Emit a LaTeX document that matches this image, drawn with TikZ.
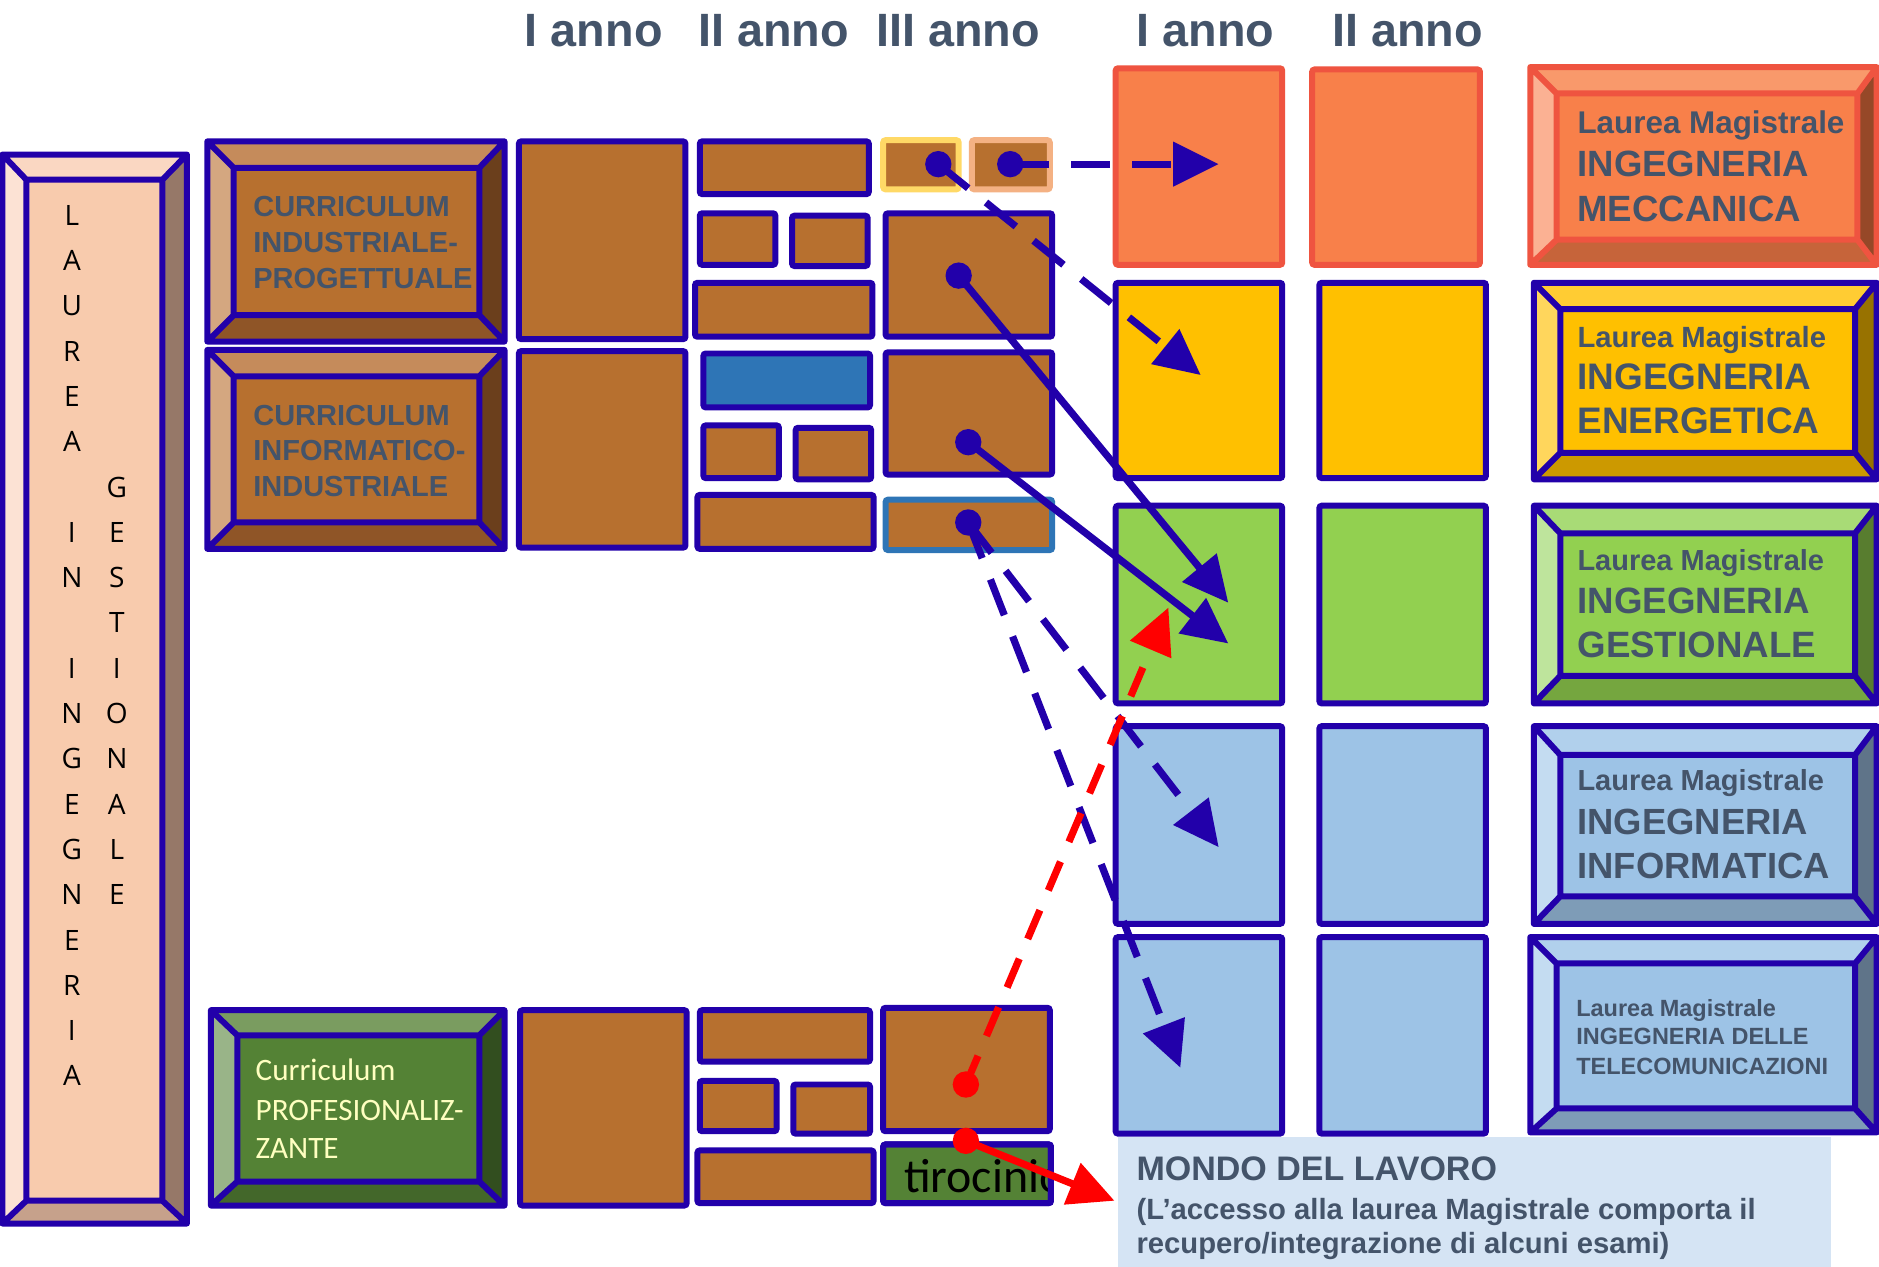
\documentclass[tikz,border=0pt]{standalone}
\usepackage{fontspec}
\setmainfont{Liberation Sans}
\newfontfamily\carlfont{Carlito}
\newfontfamily\opfont{Open Sans}
\usetikzlibrary{arrows.meta,fit}
\definecolor{bord}{HTML}{2200AA}
\definecolor{slate}{HTML}{44546A}
\definecolor{brn}{HTML}{B7702F}
\definecolor{blfill}{HTML}{2E75B6}
\definecolor{mbord}{HTML}{FFD966}
\definecolor{nbord}{HTML}{F4B183}
\definecolor{mondo}{HTML}{D5E4F4}
\definecolor{paleyel}{HTML}{FFFFC0}
\definecolor{redc}{HTML}{FF0000}
% bevel schemes: C centre, T top, L left, R right, B bottom, D border
\definecolor{lbC}{HTML}{F8CBAD}\definecolor{lbT}{HTML}{FAD7C2}\definecolor{lbL}{HTML}{FCE2D4}
\definecolor{lbR}{HTML}{967868}\definecolor{lbB}{HTML}{C6A18B}\definecolor{lbD}{HTML}{2200AA}
\definecolor{brC}{HTML}{B7702F}\definecolor{brT}{HTML}{C58B5B}\definecolor{brL}{HTML}{D4A780}
\definecolor{brR}{HTML}{6B3F1C}\definecolor{brB}{HTML}{8F5527}\definecolor{brD}{HTML}{2200AA}
\definecolor{gnC}{HTML}{548235}\definecolor{gnT}{HTML}{7A9C60}\definecolor{gnL}{HTML}{99B488}
\definecolor{gnR}{HTML}{324E1F}\definecolor{gnB}{HTML}{43672A}\definecolor{gnD}{HTML}{2200AA}
\definecolor{orC}{HTML}{F8804A}\definecolor{orT}{HTML}{F9996B}\definecolor{orL}{HTML}{FBB193}
\definecolor{orR}{HTML}{964828}\definecolor{orB}{HTML}{C6643A}\definecolor{orD}{HTML}{EF5440}
\definecolor{yeC}{HTML}{FFC000}\definecolor{yeT}{HTML}{FFCC33}\definecolor{yeL}{HTML}{FFD65C}
\definecolor{yeR}{HTML}{987200}\definecolor{yeB}{HTML}{CC9900}\definecolor{yeD}{HTML}{2200AA}
\definecolor{lgC}{HTML}{92D050}\definecolor{lgT}{HTML}{A8DB76}\definecolor{lgL}{HTML}{BEE49C}
\definecolor{lgR}{HTML}{587D2F}\definecolor{lgB}{HTML}{75A63F}\definecolor{lgD}{HTML}{2200AA}
\definecolor{luC}{HTML}{9DC3E6}\definecolor{luT}{HTML}{B1D0EC}\definecolor{luL}{HTML}{C4DCF1}
\definecolor{luR}{HTML}{5F7489}\definecolor{luB}{HTML}{7E9CB7}\definecolor{luD}{HTML}{2200AA}
% #1 scheme, #2-#5 outer x0 y0 x1 y1, #6-#9 inner x0 y0 x1 y1
\newcommand\bvbox[9]{%
  \fill[#1T] (#2,#3) -- (#4,#3) -- (#8,#7) -- (#6,#7) -- cycle;
  \fill[#1R] (#4,#3) -- (#4,#5) -- (#8,#9) -- (#8,#7) -- cycle;
  \fill[#1B] (#4,#5) -- (#2,#5) -- (#6,#9) -- (#8,#9) -- cycle;
  \fill[#1L] (#2,#5) -- (#2,#3) -- (#6,#7) -- (#6,#9) -- cycle;
  \fill[#1C] (#6,#7) rectangle (#8,#9);
  \draw[#1D, line width=2.5pt, line join=round]
    (#2,#3) rectangle (#4,#5) (#6,#7) rectangle (#8,#9)
    (#2,#3) -- (#6,#7) (#4,#3) -- (#8,#7) (#4,#5) -- (#8,#9) (#2,#5) -- (#6,#9);
}
\tikzset{
  rb/.style={draw=bord, line width=2.5pt, inner sep=0pt, outer sep=0pt, fill=brn, rounded corners=1pt},
  tt/.style={font=\bfseries\fontsize{19.5}{23}\selectfont, text=slate, inner sep=0pt, anchor=base},
  lt/.style={font=\opfont\fontsize{11.7}{14}\selectfont, inner sep=0pt, anchor=base},
  ct/.style={font=\bfseries\fontsize{12.1}{15}\selectfont, text=slate, inner sep=0pt, anchor=base west},
  mt/.style={font=\bfseries\fontsize{#1}{#1}\selectfont, text=slate, inner sep=0pt, anchor=base west},
  arr/.style={line width=3pt, draw=bord, -{Triangle[length=19pt,width=18pt]}},
  rarr/.style={line width=3pt, draw=redc, -{Triangle[length=19pt,width=18pt]}},
  bdash/.style={dash pattern=on 16pt off 9.5pt},
  rdash/.style={dash pattern=on 13pt off 9pt},
}
\begin{document}
\begin{tikzpicture}[x=0.5pt,y=-0.5pt]
\fill[white] (0,0) rectangle (1568,1057.3);
\useasboundingbox (0,0) rectangle (1568,1057.3);

% titles
\node[tt] (t1) at (495.5,39) {I anno};
\node[tt] (t2) at (645.5,39) {II anno};
\node[tt] (t3) at (799.5,39) {III anno};
\node[tt] (t4) at (1006,39) {I anno};
\node[tt] (t5) at (1174.5,39) {II anno};

% left bar
\bvbox{lb}{2}{129}{156}{1021}{22}{150}{135.5}{1002}
\foreach \ch/\k in {L/0,A/1,U/2,R/3,E/4,A/5,I/7,N/8,I/10,N/11,G/12,E/13,G/14,N/15,E/16,R/17,I/18,A/19}
  \node[lt] (la\k) at (60,{188+\k*37.8}) {\ch};
\foreach \ch/\k in {G/6,E/7,S/8,T/9,I/10,O/11,N/12,A/13,L/14,E/15}
  \node[lt] (lb\k) at (97.5,{188+\k*37.8}) {\ch};

% curriculum boxes
\bvbox{br}{173}{118}{421}{285}{195}{140}{400}{263}
\node[ct] (c1a) at (211,181) {CURRICULUM};
\node[ct] (c1b) at (211,210.5) {INDUSTRIALE-};
\node[ct] (c1c) at (211,240.5) {PROGETTUALE};
\bvbox{br}{173}{292}{421}{458}{195}{314}{400}{436}
\node[ct] (c2a) at (211,354.7) {CURRICULUM};
\node[ct] (c2b) at (211,384) {INFORMATICO-};
\node[ct] (c2c) at (211,414) {INDUSTRIALE};
\bvbox{gn}{176}{843}{421}{1006}{198}{864}{400}{986}
\node[font=\carlfont\fontsize{13}{15}\selectfont, text=paleyel, inner sep=0pt, anchor=base west] (c3a) at (213,902) {Curriculum};
\node[font=\carlfont\fontsize{13}{15}\selectfont, text=paleyel, inner sep=0pt, anchor=base west] (c3b) at (213,935) {PROFESIONALIZ-};
\node[font=\carlfont\fontsize{13}{15}\selectfont, text=paleyel, inner sep=0pt, anchor=base west] (c3c) at (213,967) {ZANTE};

% I anno (triennale)
\node[rb, fit={(433,118)(572,283)}] (y1a) {};
\node[rb, fit={(433,293)(572,457)}] (y1b) {};
\node[rb, fit={(434,843)(573,1006)}] (y1c) {};
% II anno
\node[rb, fit={(584,118)(725,162)}] (a) {};
\node[rb, fit={(584,178)(647,221)}] (b) {};
\node[rb, fit={(661,180)(724,222)}] (c) {};
\node[rb, fit={(580,236)(728,281)}] (d) {};
\node[rb, fill=blfill, fit={(587,295)(726,340)}] (e) {};
\node[rb, fit={(587,355)(650,399)}] (f) {};
\node[rb, fit={(664,357)(727,400)}] (g) {};
\node[rb, fit={(582,413)(729,458)}] (h) {};
\node[rb, fit={(584,843)(726,886)}] (i) {};
\node[rb, fit={(584,902)(648,944)}] (j) {};
\node[rb, fit={(662,905)(726,946)}] (k) {};
\node[rb, fit={(582,960)(729,1004)}] (l) {};
% III anno
\node[rb, draw=mbord, fit={(737,117)(800,158)}] (m) {};
\node[rb, draw=nbord, fit={(811,117)(876,158)}] (n) {};
\node[rb, fit={(739,178)(878,281)}] (o) {};
\node[rb, fit={(739,294)(878,396)}] (p) {};
\node[rb, draw=blfill, fit={(739,417)(878,459)}] (q) {};
\node[rb, fit={(737,841)(876,944)}] (r) {};
\node[rb, fill=gnC, fit={(737,955)(877,1004)}] (s) {};
\begin{scope}
  \clip (s.north west) rectangle (s.south east);
  \node[font=\carlfont\fontsize{20}{20}\selectfont, inner sep=0pt, anchor=base west] (tiro) at (754,995) {tirocinio};
\end{scope}
\draw[bord, line width=2.5pt, rounded corners=1pt] (s.north west) rectangle (s.south east);

% magistrale grid
\node[rb, fill=orC, draw=orD, fit={(931,57)(1070,221)}] (g11) {};
\node[rb, fill=orC, draw=orD, fit={(1095,58)(1235,221)}] (g12) {};
\node[rb, fill=yeC, fit={(931,236)(1070,399)}] (g21) {};
\node[rb, fill=yeC, fit={(1101,236)(1240,399)}] (g22) {};
\node[rb, fill=lgC, fit={(931,422)(1070,587)}] (g31) {};
\node[rb, fill=lgC, fit={(1101,422)(1240,587)}] (g32) {};
\node[rb, fill=luC, fit={(931,606)(1070,771)}] (g41) {};
\node[rb, fill=luC, fit={(1101,606)(1240,771)}] (g42) {};
\node[rb, fill=luC, fit={(931,782)(1070,946)}] (g51) {};
\node[rb, fill=luC, fit={(1101,782)(1240,946)}] (g52) {};

% magistrale boxes
\bvbox{or}{1277}{56}{1566}{221}{1299}{78}{1550}{200}
\node[mt=13.1] (mec1) at (1316,111) {Laurea Magistrale};
\node[mt=15.25] (mec2) at (1316,147.5) {INGEGNERIA};
\node[mt=15.25] (mec3) at (1316,185) {MECCANICA};
\bvbox{ye}{1280}{236}{1566}{400}{1302}{258}{1548}{378}
\node[mt=12.2] (ene1) at (1316,290) {Laurea Magistrale};
\node[mt=15.4] (ene2) at (1316,325) {INGEGNERIA};
\node[mt=15.4] (ene3) at (1316,362) {ENERGETICA};
\bvbox{lg}{1280}{422}{1566}{587}{1302}{445}{1548}{564}
\node[mt=12.1] (ges1) at (1316,476) {Laurea Magistrale};
\node[mt=15.3] (ges2) at (1316,512) {INGEGNERIA};
\node[mt=15.3] (ges3) at (1316,549) {GESTIONALE};
\bvbox{lu}{1280}{606}{1566}{771}{1302}{630}{1548}{748}
\node[mt=12.1] (inf1) at (1316,660) {Laurea Magistrale};
\node[mt=15.2] (inf2) at (1316,696) {INGEGNERIA};
\node[mt=15.2] (inf3) at (1316,733) {INFORMATICA};
\bvbox{lu}{1277}{782}{1566}{945}{1299}{804}{1548}{925}
\node[mt=9.8] (tel1) at (1315,848.5) {Laurea Magistrale};
\node[mt=9.8] (tel2) at (1315,872) {INGEGNERIA DELLE};
\node[mt=9.8] (tel3) at (1315,897) {TELECOMUNICAZIONI};

% mondo del lavoro
\node[fill=mondo, inner sep=0pt, outer sep=0pt, fit={(933,949)(1528,1060)}] (mdl) {};
\node[mt=14.2] (mdl1) at (948,985) {MONDO DEL LAVORO};
\node[mt=12.2] (mdl2) at (948,1018) {(L’accesso alla laurea Magistrale comporta il};
\node[mt=12.2] (mdl3) at (948,1046) {recupero/integrazione di alcuni esami)};

% connector points
\coordinate (dm) at (783,137);
\coordinate (dn) at (843,137);
\coordinate (do) at (800,230);
\coordinate (dp) at (808,369);
\coordinate (dq) at (808,436);
\coordinate (dr) at (806,905);
\coordinate (ds) at (806,952);
\coordinate (tO) at (1017,137);
\coordinate (tY) at (1002,313);
\coordinate (tG1) at (1025,503);
\coordinate (tG2) at (1025,537);
\coordinate (tB1) at (1017,707);
\coordinate (tB2) at (985,891);
\coordinate (tG3) at (975,507);
\coordinate (tM) at (930,1002);

% connectors
\draw[arr, bdash] (dn) -- (tO);
\draw[arr, bdash] (dm) -- (tY);
\draw[arr] (do) -- (tG1);
\draw[arr] (dp) -- (tG2);
\draw[arr, bdash] (dq) -- (tB1);
\draw[arr, bdash] (dq) -- (tB2);
\draw[rarr, rdash] (dr) -- (tG3);
\draw[rarr] (ds) -- (tM);
\foreach \p in {dm,dn,do,dp,dq} \fill[bord] (\p) circle[radius=5.5pt];
\foreach \p in {dr,ds} \fill[redc] (\p) circle[radius=5.5pt];
\end{tikzpicture}
\end{document}
